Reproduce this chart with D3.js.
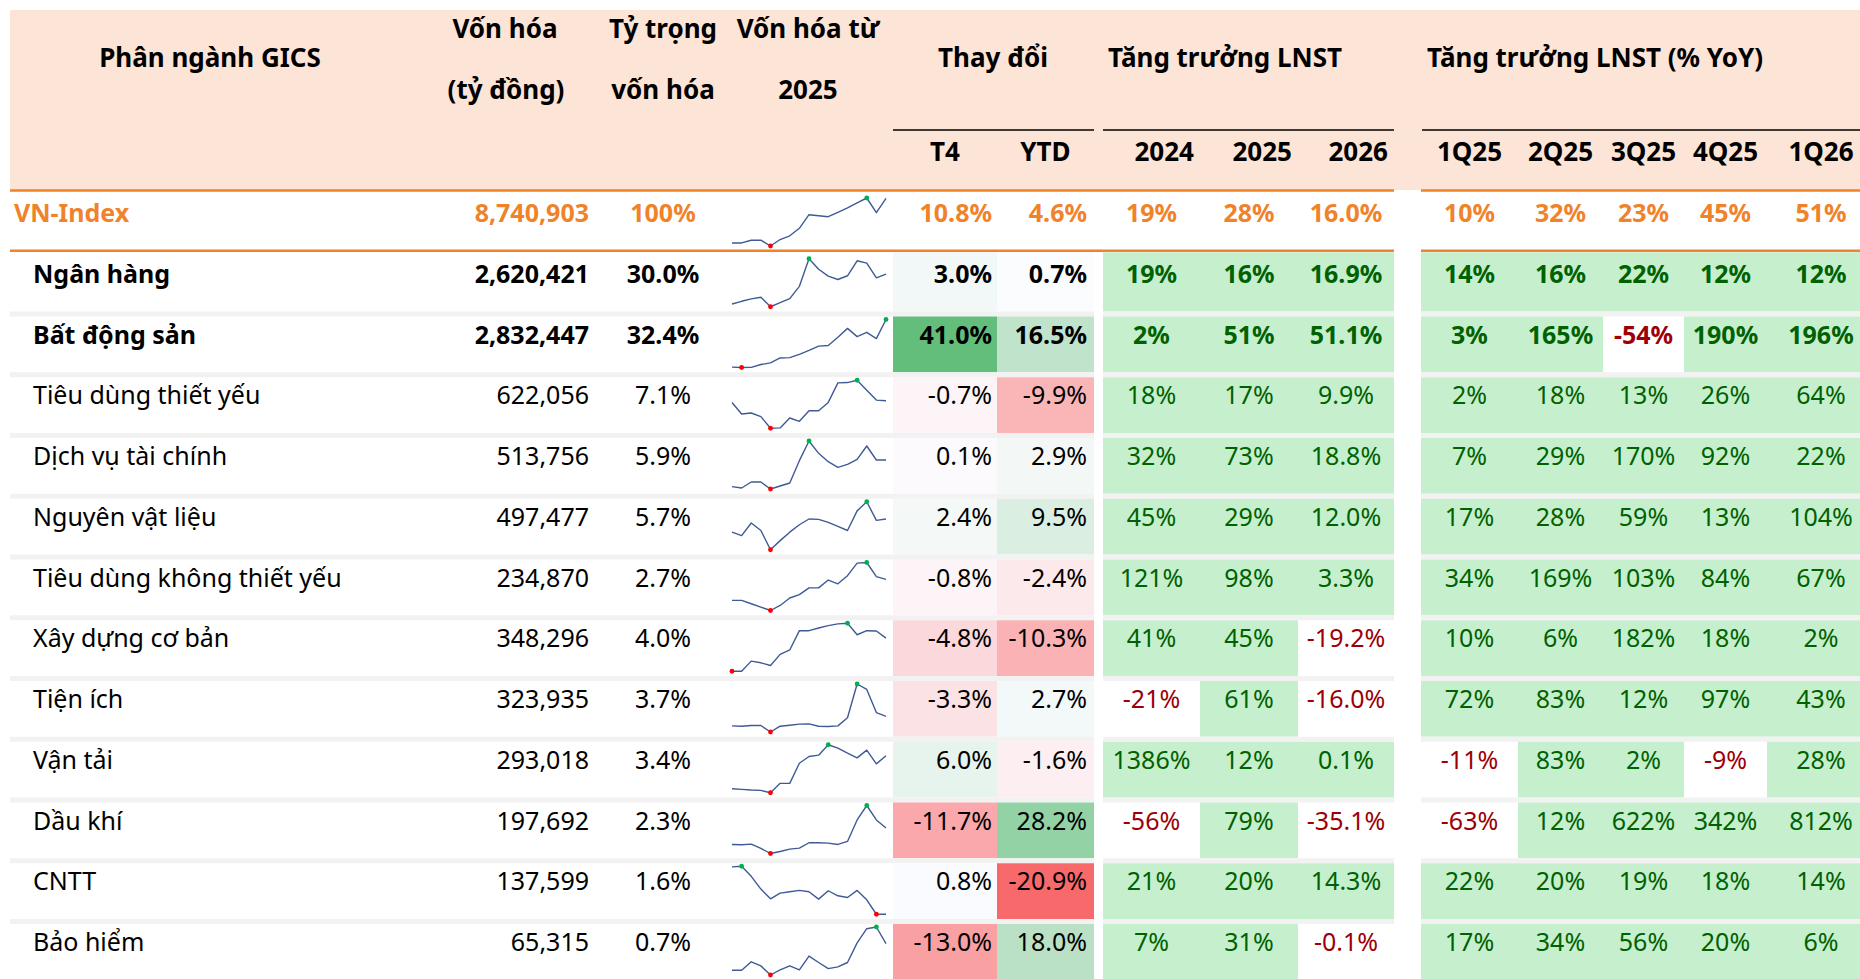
<!DOCTYPE html>
<html lang="vi">
<head>
<meta charset="utf-8" />
<script src="https://cdn.jsdelivr.net/npm/d3@7"></script>
<style>
  body { margin: 0; background: #fff; }
  svg text { font-family: "Noto Sans", sans-serif; font-size: 25px; }
  svg .head text { font-size: 26px; }
</style>
<title>Phân ngành GICS</title>
</head>
<body>
<svg id="table" width="1860" height="979"></svg>
<script>
// --- data ---------------------------------------------------------------
const sectors = ["Ngân hàng", "Bất động sản", "Tiêu dùng thiết yếu", "Dịch vụ tài chính",
  "Nguyên vật liệu", "Tiêu dùng không thiết yếu", "Xây dựng cơ bản", "Tiện ích",
  "Vận tải", "Dầu khí", "CNTT", "Bảo hiểm"];
const marketCap = [2620421, 2832447, 622056, 513756, 497477, 234870, 348296, 323935, 293018, 197692, 137599, 65315];
const capWeight = [30.0, 32.4, 7.1, 5.9, 5.7, 2.7, 4.0, 3.7, 3.4, 2.3, 1.6, 0.7];
const chgT4 = [3.0, 41.0, -0.7, 0.1, 2.4, -0.8, -4.8, -3.3, 6.0, -11.7, 0.8, -13.0];
const chgYTD = [0.7, 16.5, -9.9, 2.9, 9.5, -2.4, -10.3, 2.7, -1.6, 28.2, -20.9, 18.0];
const lnst2024 = [19, 2, 18, 32, 45, 121, 41, -21, 1386, -56, 21, 7];
const lnst2025 = [16, 51, 17, 73, 29, 98, 45, 61, 12, 79, 20, 31];
const lnst2026 = [16.9, 51.1, 9.9, 18.8, 12.0, 3.3, -19.2, -16.0, 0.1, -35.1, 14.3, -0.1];
const q1_25 = [14, 3, 2, 7, 17, 34, 10, 72, -11, -63, 22, 17];
const q2_25 = [16, 165, 18, 29, 28, 169, 6, 83, 83, 12, 20, 34];
const q3_25 = [22, -54, 13, 170, 59, 103, 182, 12, 2, 622, 19, 56];
const q4_25 = [12, 190, 26, 92, 13, 84, 18, 97, -9, 342, 18, 20];
const q1_26 = [12, 196, 64, 22, 104, 67, 2, 43, 28, 812, 14, 6];

const quarterLabels = ["1Q25", "2Q25", "3Q25", "4Q25", "1Q26"];
const yearLabels = ["2024", "2025", "2026"];

// VN-Index summary row
const indexName = "VN-Index";
const indexRow = { cap: 8740903, weight: 100, t4: 10.8, ytd: 4.6, y: [19, 28, 16.0], q: [10, 32, 23, 45, 51] };

const sparkIndex = [9, 9, 17, 17, 0, 19, 30, 52, 92, 89, 86, 99, 112, 127, 141, 98, 140];
const sparkSectors = [
  [8, 16, 23, 28, 0, 12, 24, 60, 141, 110, 90, 80, 91, 135, 128, 85, 96],
  [1, 0, 0.5, 9, 14, 29, 30, 40, 52, 65, 67, 92, 119, 94, 107, 88, 146],
  [78, 43, 46, 35, 0, 1, 31, 21, 53, 53, 78, 137, 138, 145, 115, 85, 83],
  [7, 3, 21, 21, 0, 9, 18, 85, 144, 107, 82, 65, 74, 89, 129, 87, 87],
  [52, 42, 79, 57, 0, 27, 52, 74, 91, 90, 81, 69, 57, 115, 142, 87, 91],
  [30, 30, 20, 10, 0, 15, 37, 47, 67, 67, 90, 79, 103, 140, 142, 100, 92],
  [0, 0, 30, 25, 17, 50, 63, 120, 120, 128, 135, 140, 142, 108, 120, 119, 98],
  [18, 17, 19, 19, 0, 17, 20, 23, 24, 17, 16, 18, 42, 141, 125, 57, 46],
  [12, 10, 8, 7, 0, 28, 28, 88, 108, 112, 143, 133, 118, 104, 127, 86, 110],
  [27, 26, 28, 15, 0, 6, 13, 16, 32, 32, 31, 27, 36, 100, 143, 100, 76],
  [141, 143, 113, 75, 46, 63, 67, 71, 67, 45, 70, 55, 50, 71, 43, 0, 0],
  [14, 14, 39, 27, 0, 15, 27, 15, 56, 37, 19, 24, 37, 95, 137, 142, 93]
];

// --- layout -------------------------------------------------------------
const svg = d3.select("#table");
const W = 1860;
const orange = "#F0822A";
const greenFill = "#C6EFCE", greenText = "#006100", redText = "#9C0006";

const rowKeys = [indexName, ...sectors];
const rowScale = d3.scaleBand().domain(rowKeys).range([190, 190 + 13 * 60.75]);
const rowH = rowScale.bandwidth();

const colT4 = [893, 997], colYTD = [997, 1094];
const yearCols = [[1103, 1200], [1200, 1298], [1298, 1394]];
const quarterCols = [[1421, 1518], [1518, 1603], [1603, 1684], [1684, 1767], [1767, 1875]];
const segments = [[10, 1094], [1103, 1394], [1421, W]];
const sparkX = d3.scaleLinear().domain([0, 16]).range([732, 886]);

const loc = d3.formatLocale({ decimal: ".", thousands: ",", grouping: [3], currency: ["", ""], minus: "-" });
const fmtCap = loc.format(",d");
const pct0 = v => loc.format("d")(v) + "%";
const pct1 = v => loc.format(".1f")(v) + "%";

const changeVals = chgT4.concat(chgYTD);
const changeColor = d3.scaleLinear()
  .domain([d3.min(changeVals), d3.median(changeVals), d3.max(changeVals)])
  .range(["#F8696B", "#FCFCFF", "#63BE7B"]);

// --- header -------------------------------------------------------------
const head = svg.append("g").attr("class", "head");
head.append("rect").attr("x", 10).attr("y", 10).attr("width", W - 10).attr("height", 180).attr("fill", "#FCE4D6");

const headTexts = [
  { t: "Phân ngành GICS", x: 210, y: 67, a: "middle" },
  { t: "Vốn hóa", x: 505, y: 38, a: "middle" },
  { t: "(tỷ đồng)", x: 506, y: 99, a: "middle" },
  { t: "Tỷ trọng", x: 663, y: 38, a: "middle" },
  { t: "vốn hóa", x: 663, y: 99, a: "middle" },
  { t: "Vốn hóa từ", x: 808, y: 38, a: "middle" },
  { t: "2025", x: 808, y: 99, a: "middle" },
  { t: "Thay đổi", x: 993, y: 67, a: "middle" },
  { t: "Tăng trưởng LNST", x: 1108, y: 67, a: "start" },
  { t: "Tăng trưởng LNST (% YoY)", x: 1427, y: 67, a: "start" },
  { t: "T4", x: (colT4[0] + colT4[1]) / 2, y: 161, a: "middle" },
  { t: "YTD", x: (colYTD[0] + colYTD[1]) / 2, y: 161, a: "middle" }
];
yearLabels.forEach((l, i) => headTexts.push({ t: l, x: yearCols[i][1] - 6, y: 161, a: "end" }));
quarterLabels.forEach((l, i) => headTexts.push({ t: l, x: (quarterCols[i][0] + quarterCols[i][1]) / 2, y: 161, a: "middle" }));

head.selectAll("text").data(headTexts).join("text")
  .attr("x", d => d.x).attr("y", d => d.y)
  .attr("text-anchor", d => d.a)
  .attr("font-weight", "bold").attr("fill", "#000")
  .text(d => d.t);

head.selectAll("line").data([[893, 1094], [1103, 1394], [1422, W]]).join("line")
  .attr("x1", d => d[0]).attr("x2", d => d[1])
  .attr("y1", 130).attr("y2", 130)
  .attr("stroke", "#000").attr("stroke-width", 1.6);

// --- body ---------------------------------------------------------------
const rows = sectors.map((s, i) => ({
  name: s, cap: marketCap[i], weight: capWeight[i], t4: chgT4[i], ytd: chgYTD[i],
  y: [lnst2024[i], lnst2025[i], lnst2026[i]],
  q: [q1_25[i], q2_25[i], q3_25[i], q4_25[i], q1_26[i]],
  spark: sparkSectors[i], bold: i < 2, index: false
}));
rows.unshift({ name: indexName, cap: indexRow.cap, weight: indexRow.weight, t4: indexRow.t4, ytd: indexRow.ytd,
  y: indexRow.y, q: indexRow.q, spark: sparkIndex, bold: true, index: true });

const body = svg.append("g");

rows.forEach((r, ri) => {
  const top = rowScale(r.name);
  const g = body.append("g");
  const cellTop = ri <= 1 ? top + 1.5 : top + 5;
  const base = top + 32;

  // grey separators between sector rows
  if (ri >= 2) {
    g.selectAll("rect.sep").data(segments).join("rect").attr("class", "sep")
      .attr("x", d => d[0]).attr("y", top).attr("width", d => d[1] - d[0]).attr("height", 5)
      .attr("fill", "#F2F2F2");
  }

  const txtColor = v => r.index ? orange : (v < 0 ? redText : greenText);
  const baseColor = r.index ? orange : "#000";

  if (!r.index) {
    // change cells, colour scale
    g.selectAll("rect.chg").data([[colT4, r.t4], [colYTD, r.ytd]]).join("rect").attr("class", "chg")
      .attr("x", d => d[0][0]).attr("y", cellTop).attr("width", d => d[0][1] - d[0][0])
      .attr("height", top + rowH - cellTop).attr("fill", d => changeColor(d[1]));
    // growth cells
    const growth = r.y.map((v, i) => [yearCols[i], v]).concat(r.q.map((v, i) => [quarterCols[i], v]));
    g.selectAll("rect.gr").data(growth.filter(d => d[1] >= 0)).join("rect").attr("class", "gr")
      .attr("x", d => d[0][0]).attr("y", cellTop).attr("width", d => d[0][1] - d[0][0])
      .attr("height", top + rowH - cellTop).attr("fill", greenFill);
  }

  const texts = [
    { t: r.name, x: r.index ? 14 : 33, a: "start", c: baseColor },
    { t: fmtCap(r.cap), x: 589, a: "end", c: baseColor },
    { t: r.index ? pct0(r.weight) : pct1(r.weight), x: 663, a: "middle", c: baseColor },
    { t: pct1(r.t4), x: colT4[1] - 5, a: "end", c: baseColor },
    { t: pct1(r.ytd), x: colYTD[1] - 7, a: "end", c: baseColor }
  ];
  r.y.forEach((v, i) => texts.push({ t: i === 2 ? pct1(v) : pct0(v), x: (yearCols[i][0] + yearCols[i][1]) / 2, a: "middle", c: txtColor(v) }));
  r.q.forEach((v, i) => texts.push({ t: pct0(v), x: (quarterCols[i][0] + quarterCols[i][1]) / 2, a: "middle", c: txtColor(v) }));

  g.selectAll("text").data(texts).join("text")
    .attr("x", d => d.x).attr("y", base)
    .attr("text-anchor", d => d.a)
    .attr("font-weight", r.bold ? "bold" : "normal")
    .attr("fill", d => d.c)
    .text(d => d.t);

  // sparkline
  const sy = d3.scaleLinear().domain(d3.extent(r.spark)).range([top + 56, top + 8]);
  g.append("path").datum(r.spark)
    .attr("fill", "none").attr("stroke", "#3F5A96").attr("stroke-width", 1.4)
    .attr("stroke-linejoin", "round")
    .attr("d", d3.line().x((d, i) => sparkX(i)).y(d => sy(d)));
  const hi = d3.maxIndex(r.spark), lo = d3.minIndex(r.spark);
  g.selectAll("circle").data([[hi, "#00B050"], [lo, "#FF0000"]]).join("circle")
    .attr("cx", d => sparkX(d[0])).attr("cy", d => sy(r.spark[d[0]]))
    .attr("r", 2.4).attr("fill", d => d[1]);
});

// orange rules around the index row
svg.append("g").selectAll("line")
  .data([[190.5, [10, 1394]], [190.5, [1421, W]], [rowScale(sectors[0]), [10, 1394]], [rowScale(sectors[0]), [1421, W]]])
  .join("line")
  .attr("x1", d => d[1][0]).attr("x2", d => d[1][1])
  .attr("y1", d => d[0]).attr("y2", d => d[0])
  .attr("stroke", orange).attr("stroke-width", 2.5);
</script>
</body>
</html>
